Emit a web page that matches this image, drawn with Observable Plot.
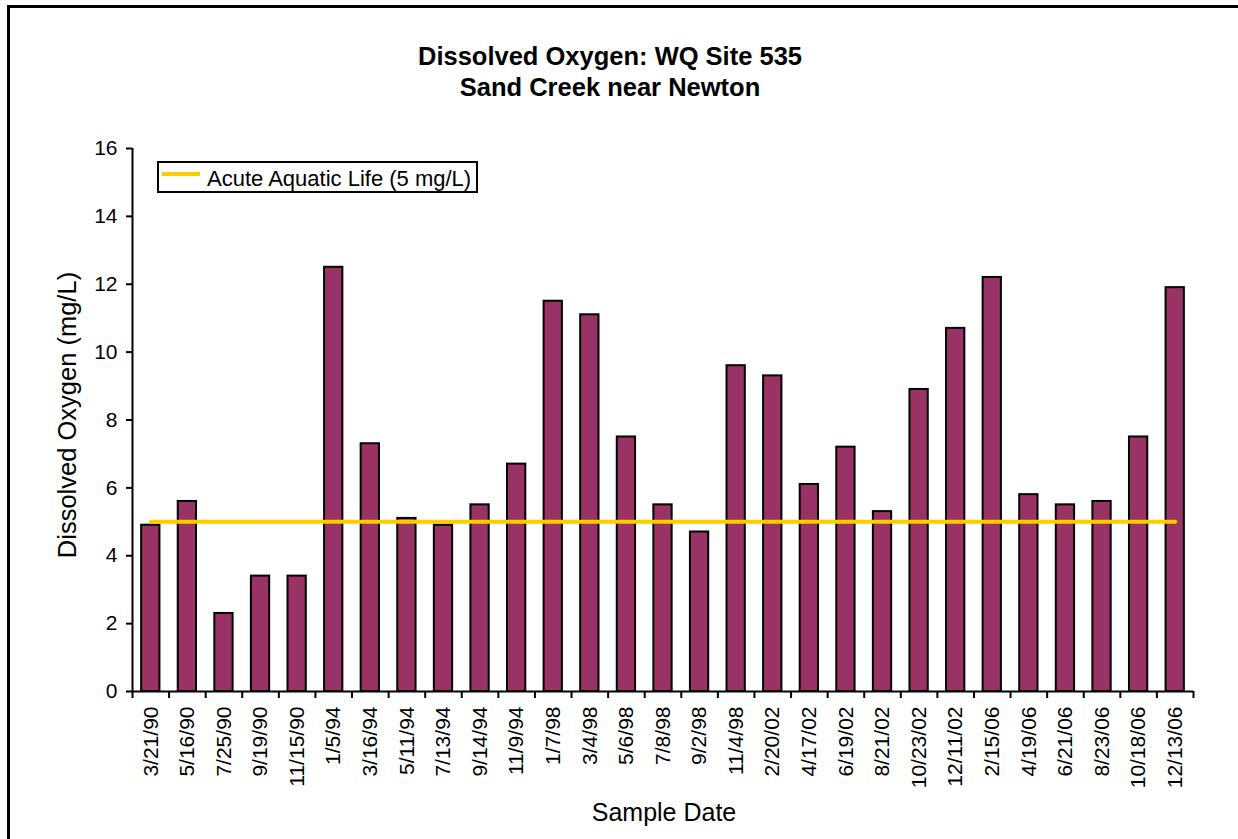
<!DOCTYPE html>
<html><head><meta charset="utf-8">
<script src="https://cdn.jsdelivr.net/npm/d3@7"></script>
<script src="https://cdn.jsdelivr.net/npm/@observablehq/plot@0.6"></script>
<style>
body{margin:0;overflow:hidden;background:#fff;font-family:"Liberation Sans",Arial,sans-serif;color:#000;}
#wrap{position:relative;width:1238px;height:839px;overflow:hidden;}
#wrap svg{position:absolute;left:0;top:0;}
#frame{position:absolute;left:7px;top:5px;width:1300px;height:900px;border:3px solid #000;}
#title{position:absolute;left:0;width:1220px;top:41px;text-align:center;font-weight:bold;font-size:25.5px;line-height:31px;}
#xtitle{position:absolute;left:514px;width:300px;top:800px;text-align:center;font-size:25px;line-height:25px;}
#ytitle{position:absolute;left:-133px;width:400px;top:401px;height:28px;text-align:center;font-size:25.5px;line-height:28px;transform:rotate(-90deg);white-space:nowrap;}
#legend{position:absolute;left:157px;top:161px;width:317px;height:28px;border:2px solid #000;background:#fff;font-size:22px;}
#legend .sw{position:absolute;left:3px;top:9px;width:38px;height:4px;background:#FFCC00;}
#legend .lt{position:absolute;left:48px;top:5px;line-height:22px;white-space:nowrap;}
</style></head>
<body>
<div id="wrap">
  <div id="frame"></div>
  <div id="title"></div>
</div>
<script>
const dates = ["3/21/90","5/16/90","7/25/90","9/19/90","11/15/90","1/5/94","3/16/94","5/11/94","7/13/94","9/14/94","11/9/94","1/7/98","3/4/98","5/6/98","7/8/98","9/2/98","11/4/98","2/20/02","4/17/02","6/19/02","8/21/02","10/23/02","12/11/02","2/15/06","4/19/06","6/21/06","8/23/06","10/18/06","12/13/06"];
const doValues = [4.9,5.6,2.3,3.4,3.4,12.5,7.3,5.1,4.9,5.5,6.7,11.5,11.1,7.5,5.5,4.7,9.6,9.3,6.1,7.2,5.3,8.9,10.7,12.2,5.8,5.5,5.6,7.5,11.9];
const threshold = 5;
const thresholdLabel = "Acute Aquatic Life (5 mg/L)";
const yTicks = [0,2,4,6,8,10,12,14,16];
const titleLines = ["Dissolved Oxygen: WQ Site 535","Sand Creek near Newton"];
const xLabel = "Sample Date";
const yLabel = "Dissolved Oxygen (mg/L)";

const data = dates.map((d,i)=>({date:d, value:doValues[i]}));
const W = 1238, H = 839, axL = 132, axR = 1193, mT = 148, mB = 148;
const step = (axR - axL) / dates.length;
const ext = 0.25 * step; // band padding 0.5 -> outer pad half a step; extend frame by a quarter step
const mL = axL - ext, mR = W - axR - ext;

const chart = Plot.plot({
  width: W, height: H,
  marginLeft: mL, marginRight: mR, marginTop: mT, marginBottom: mB,
  style: {fontFamily: "'Liberation Sans', Arial, sans-serif", fontSize: "21px", color: "#000", background: "transparent", overflow: "visible"},
  x: {type: "band", domain: dates, padding: 0.5, round: false, axis: null},
  y: {domain: [0, 16], axis: null},
  marks: [
    Plot.barY(data, {x: "date", y: "value", fill: "#993366", stroke: "#000", strokeWidth: 2}),
    Plot.ruleY([0], {stroke: "#000", strokeWidth: 2, insetLeft: ext, insetRight: ext}),
    Plot.ruleX([dates[0]], {x: d => d, y1: 0, y2: 16, dx: -step/2, stroke: "#000", strokeWidth: 2}),
    Plot.ruleX([dates[0]], {x: d => d, y1: 0, y2: 0, insetBottom: -7, dx: -step/2, stroke: "#000", strokeWidth: 2}),
    Plot.ruleX(dates, {x: d => d, y1: 0, y2: 0, insetBottom: -7, dx: step/2, stroke: "#000", strokeWidth: 2}),
    Plot.axisY({ticks: yTicks, tickSize: 6, tickPadding: 9, fontSize: 21, label: null, strokeWidth: 2, dx: ext}),
    Plot.axisX({tickSize: 0, tickPadding: 15, tickRotate: -90, fontSize: 21, label: null}),
    Plot.lineY(dates, {x: d => d, y: () => threshold, stroke: "#FFCC00", strokeWidth: 4})
  ]
});
const wrap = document.getElementById("wrap");
wrap.insertBefore(chart, wrap.firstChild);

const lg = document.createElement("div"); lg.id = "legend";
lg.innerHTML = '<span class="sw"></span><span class="lt"></span>';
lg.querySelector(".lt").textContent = thresholdLabel;
wrap.appendChild(lg);
const xt = document.createElement("div"); xt.id = "xtitle"; xt.textContent = xLabel; wrap.appendChild(xt);
const yt = document.createElement("div"); yt.id = "ytitle"; yt.textContent = yLabel; wrap.appendChild(yt);
const tt = document.getElementById("title");
titleLines.forEach((t,i)=>{ if(i) tt.appendChild(document.createElement("br")); tt.appendChild(document.createTextNode(t)); });
</script>
</body></html>
